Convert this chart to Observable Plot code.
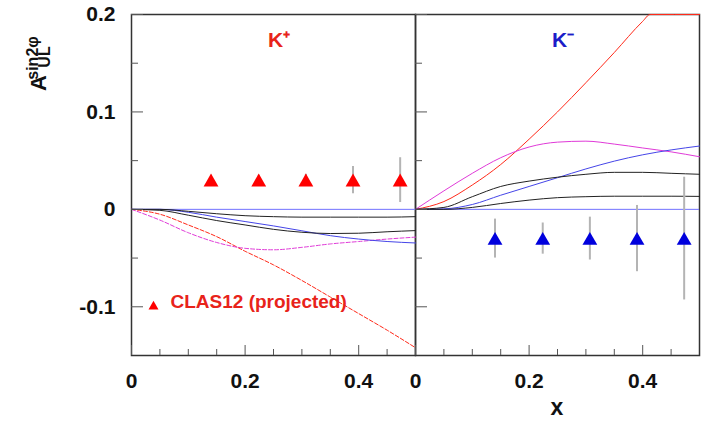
<!DOCTYPE html>
<html><head><meta charset="utf-8">
<script src="https://cdn.jsdelivr.net/npm/d3@7"></script>
<script src="https://cdn.jsdelivr.net/npm/@observablehq/plot@0.6"></script>
<style>
body{margin:0;background:#fff;}
#chart{position:relative;width:704px;height:422px;}
</style></head><body><div id="chart"></div>
<script>
const panels = ["K+", "K-"];
const panelLabels = ["K⁺", "K⁻"];
const xGrid = [0, 0.05, 0.1, 0.15, 0.2, 0.25, 0.3, 0.35, 0.4, 0.45, 0.5];
// K+ panel model curves
const kpRed     = [0, -0.005, -0.016, -0.028, -0.043, -0.057, -0.073, -0.090, -0.107, -0.124, -0.142];
const kpMagenta = [0, -0.011, -0.024, -0.034, -0.040, -0.0415, -0.039, -0.0355, -0.033, -0.0305, -0.0285];
const kpBlue    = [0, 0, -0.003, -0.008, -0.0125, -0.017, -0.022, -0.027, -0.0305, -0.033, -0.0345];
const kpBlack1  = [0, 0, -0.002, -0.0045, -0.0065, -0.0075, -0.008, -0.008, -0.008, -0.008, -0.0075];
const kpBlack2  = [0, -0.001, -0.006, -0.0115, -0.016, -0.0205, -0.0235, -0.0248, -0.0245, -0.023, -0.0218];
// K- panel model curves
const kmRedX    = [0, 0.05, 0.1, 0.15, 0.2, 0.25, 0.3, 0.35, 0.4, 0.413, 0.5];
const kmRed     = [0, 0.008, 0.025, 0.046, 0.072, 0.100, 0.130, 0.161, 0.193, 0.2, 0.2];
const kmMagenta = [0, 0.019, 0.037, 0.053, 0.064, 0.069, 0.070, 0.067, 0.063, 0.059, 0.054];
const kmBlue    = [0, 0.0005, 0.005, 0.0145, 0.0235, 0.0325, 0.0415, 0.0495, 0.056, 0.061, 0.065];
const kmBlack1  = [0, 0.002, 0.013, 0.0235, 0.029, 0.033, 0.036, 0.038, 0.038, 0.037, 0.036];
const kmBlack2  = [0, 0, 0.002, 0.006, 0.0095, 0.012, 0.013, 0.0135, 0.0135, 0.0135, 0.0133];
// CLAS12 projected points
const pointX     = [0.14, 0.224, 0.307, 0.39, 0.473];
const kpPointY   = [0.03, 0.03, 0.03, 0.03, 0.03];
const kpPointErr = [0.005, 0.005, 0.006, 0.014, 0.023];
const kmPointY   = [-0.03, -0.03, -0.03, -0.03, -0.03];
const kmPointErr = [0.020, 0.016, 0.022, 0.034, 0.063];
// ticks
const xTicksMajor = [0, 0.2, 0.4];
const xTicksMinor = [0.05, 0.1, 0.15, 0.25, 0.3, 0.35, 0.45];
const yTicksMajor = [-0.1, 0, 0.1, 0.2];
const yTicksMinor = [-0.05, 0.05, 0.15];
const legendText = "CLAS12 (projected)";

const RED = "#ff2a1a", MAG = "#e03ad8", BLUE = "#4545e8", BLACK = "#222";
const series = [
  {panel: "K+", xs: xGrid, ys: kpRed, color: RED, dash: "4,2"},
  {panel: "K+", xs: xGrid, ys: kpMagenta, color: MAG, dash: "4,2"},
  {panel: "K+", xs: xGrid, ys: kpBlue, color: BLUE, dash: null},
  {panel: "K+", xs: xGrid, ys: kpBlack1, color: BLACK, dash: null},
  {panel: "K+", xs: xGrid, ys: kpBlack2, color: BLACK, dash: null},
  {panel: "K-", xs: kmRedX, ys: kmRed, color: RED, dash: null},
  {panel: "K-", xs: xGrid, ys: kmMagenta, color: MAG, dash: null},
  {panel: "K-", xs: xGrid, ys: kmBlue, color: BLUE, dash: null},
  {panel: "K-", xs: xGrid, ys: kmBlack1, color: BLACK, dash: null},
  {panel: "K-", xs: xGrid, ys: kmBlack2, color: BLACK, dash: null}
];
const points = [
  ...pointX.map((x, i) => ({panel: "K+", x, y: kpPointY[i], e: kpPointErr[i], color: "#ff0000"})),
  ...pointX.map((x, i) => ({panel: "K-", x, y: kmPointY[i], e: kmPointErr[i], color: "#0000dd"}))
];
const labels = panels.map((p, i) => ({panel: p, text: panelLabels[i], color: i === 0 ? "#e8231a" : "#1c1cc8"}));

const font = "'Liberation Sans', Arial, Helvetica, sans-serif";
const tickStroke = "#555";
const marks = [
  Plot.frame({stroke: "#333", strokeWidth: 1.5}),
  Plot.ruleY([0], {stroke: "#7272ff", strokeWidth: 1}),
  ...series.map(s => Plot.line(s.xs.map((x, i) => ({panel: s.panel, x, y: s.ys[i]})), {
    fx: "panel", x: "x", y: "y", stroke: s.color, strokeWidth: 1, curve: "monotone-x",
    strokeDasharray: s.dash
  })),
  Plot.ruleX(points, {fx: "panel", x: "x", y1: d => d.y - d.e, y2: d => d.y + d.e, stroke: "#b4b4b4", strokeWidth: 2}),
  Plot.dot(points, {fx: "panel", x: "x", y: "y", symbol: "triangle", r: 5.5, fill: "color", stroke: "none", dy: 2}),
  Plot.text(labels, {fx: "panel", x: 0.26, frameAnchor: "top", dy: 18, text: "text", fill: "color",
    fontSize: 21, fontWeight: "bold"}),
  Plot.dot([{panel: "K+"}], {fx: "panel", frameAnchor: "bottom-left", dx: 22, dy: -49, symbol: "triangle",
    r: 3.7, fill: "#ff0000", stroke: "none"}),
  Plot.text([{panel: "K+", text: legendText}], {fx: "panel", frameAnchor: "bottom-left", dx: 39, dy: -48,
    text: "text", textAnchor: "start", fill: "#e8231a", fontSize: 19, fontWeight: "bold"}),
  Plot.axisX(xTicksMajor, {tickSize: -10, tickPadding: 28, stroke: tickStroke, fill: "#111",
    fontSize: 21, fontWeight: "bold", tickFormat: d => d === 0 ? "0" : String(d), label: null}),
  Plot.axisX(xTicksMinor, {tickSize: -6, stroke: tickStroke, fill: "none", label: null}),
  Plot.axisY(yTicksMajor, {tickSize: -12, tickPadding: 28, stroke: "none", fill: "#111",
    fontSize: 21, fontWeight: "bold", tickFormat: d => d === 0 ? "0" : String(d), label: null}),
  Plot.axisY(yTicksMajor, {tickSize: -12, stroke: tickStroke, fill: "none", label: null, facetAnchor: null}),
  Plot.axisY(yTicksMinor, {tickSize: -7, stroke: tickStroke, fill: "none", label: null, facetAnchor: null})
];

const plot = Plot.plot({
  width: 704, height: 422,
  marginLeft: 131, marginRight: 5, marginTop: 14, marginBottom: 67,
  style: {fontFamily: font, background: "white", color: "#111"},
  fx: {domain: panels, padding: 0, axis: null, label: null},
  x: {domain: [0, 0.5], label: null},
  y: {domain: [-0.15, 0.2], label: null},
  marks
});
document.getElementById("chart").appendChild(plot);

// axis titles
const svg = d3.select(plot);
const g = svg.append("g").attr("font-family", font).attr("font-weight", "bold").attr("fill", "#111");
g.append("text").attr("transform", "translate(46,83) rotate(-90)").attr("font-size", 22).text("A");
g.append("text").attr("transform", "translate(38,58) rotate(-90)").attr("font-size", 16).text("sin2φ");
g.append("text").attr("transform", "translate(50,57) rotate(-90)").attr("font-size", 16).text("UL");
svg.append("text").attr("x", 557).attr("y", 415).attr("text-anchor", "middle")
  .attr("font-family", font).attr("font-weight", "bold").attr("font-size", 23).attr("fill", "#111").text("x");
</script></body></html>
